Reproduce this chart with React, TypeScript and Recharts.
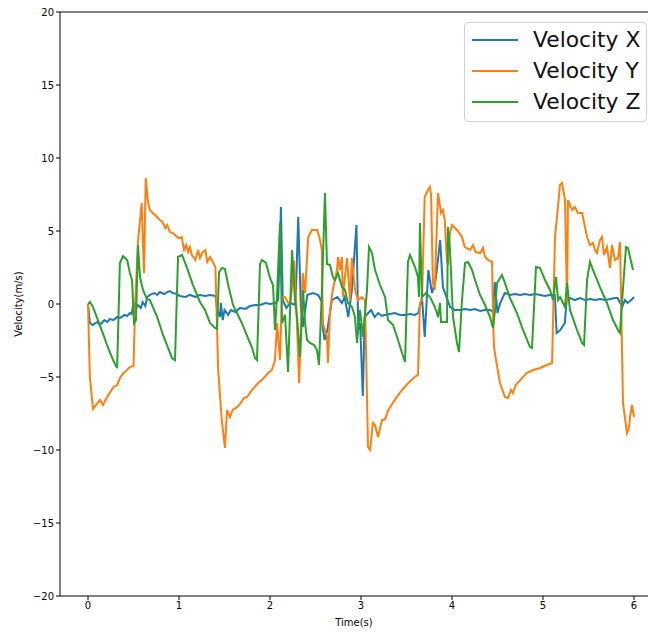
import React from 'react';
import { LineChart, Line, XAxis, YAxis, ReferenceLine, Legend } from 'recharts';

const xTicks = [0, 1, 2, 3, 4, 5, 6];
const yTicks = [-20, -15, -10, -5, 0, 5, 10, 15, 20];
const seriesNames = ['Velocity X', 'Velocity Y', 'Velocity Z'];
const seriesColors = ['#1f77b4', '#ff7f0e', '#2ca02c'];

const velocityX: [number, number][] = [
  [0, 0], [0.02, -1.3], [0.05, -1.44], [0.1, -1.23], [0.13, -1.44], [0.18, -1.1], [0.21, -1.23], [0.24, -1.03],
  [0.28, -1.1], [0.32, -0.89], [0.35, -0.96], [0.4, -0.75], [0.43, -0.82], [0.46, -0.62], [0.48, -0.68], [0.5, 0.07],
  [0.53, -0.27], [0.55, -0.07], [0.58, -0.27], [0.6, 0.14], [0.63, -0.14], [0.65, 0.48], [0.68, 0.62], [0.73, 0.75],
  [0.76, 0.62], [0.79, 0.82], [0.84, 0.68], [0.87, 0.82], [0.9, 0.89], [0.93, 0.75], [0.98, 0.68], [1.01, 0.55],
  [1.07, 0.48], [1.12, 0.62], [1.18, 0.48], [1.23, 0.62], [1.29, 0.55], [1.34, 0.62], [1.4, 0.55], [1.42, -0.41],
  [1.45, -0.89], [1.46, 0.07], [1.48, -1.1], [1.5, -0.41], [1.54, -0.75], [1.57, -0.41], [1.62, -0.55], [1.67, -0.27],
  [1.73, -0.34], [1.78, -0.14], [1.84, -0.07], [1.89, -0.07], [1.95, 0.07], [2.0, 0], [2.06, 0.07], [2.09, 0.27],
  [2.12, 6.64], [2.14, 0.27], [2.18, -0.27], [2.22, 0.07], [2.28, -0.07], [2.31, 5.96], [2.34, -0.41], [2.36, -1.58],
  [2.41, 0.62], [2.47, 0.75], [2.53, 0.62], [2.57, 0.14], [2.58, -1.58], [2.6, -2.47], [2.63, -1.78], [2.68, 0.27],
  [2.74, 0.48], [2.79, 0.07], [2.82, 0.48], [2.86, -0.89], [2.9, 0.96], [2.95, 5.41], [2.97, -1.78], [2.99, -1.3],
  [3.02, -6.3], [3.04, -0.89], [3.08, -0.62], [3.11, -0.41], [3.15, -0.89], [3.19, -0.62], [3.23, -0.82], [3.26, -0.75],
  [3.32, -0.68], [3.37, -0.62], [3.43, -0.75], [3.48, -0.75], [3.54, -0.68], [3.59, -0.75], [3.63, -0.62], [3.67, 0.48],
  [3.7, -2.26], [3.74, 2.33], [3.78, 0.75], [3.82, 1.64], [3.87, 4.38], [3.9, 1.16], [3.93, 0.62], [3.98, -0.21],
  [4.03, -0.41], [4.09, -0.41], [4.14, -0.34], [4.2, -0.41], [4.25, -0.34], [4.31, -0.48], [4.36, -0.41], [4.42, -0.41],
  [4.45, -0.55], [4.47, 1.51], [4.5, -0.62], [4.53, 0.07], [4.58, 0.75], [4.64, 0.62], [4.69, 0.68], [4.75, 0.62],
  [4.8, 0.68], [4.86, 0.62], [4.91, 0.68], [4.97, 0.62], [5.02, 0.55], [5.08, 0.62], [5.13, 0.62], [5.15, -1.99],
  [5.19, -1.78], [5.24, -1.3], [5.26, 0.27], [5.3, 0.41], [5.35, 0.27], [5.41, 0.41], [5.46, 0.27], [5.52, 0.34],
  [5.57, 0.27], [5.63, 0.34], [5.68, 0.27], [5.74, 0.34], [5.79, 0.41], [5.82, 0.41], [5.87, -0.21], [5.9, 0.27],
  [5.93, 0.07], [5.97, 0.27], [6.0, 0.48],
];

const velocityY: [number, number][] = [
  [0, 0], [0.02, -5.0], [0.055, -7.19], [0.13, -6.58], [0.165, -6.9], [0.21, -6.37], [0.28, -5.68], [0.32, -5.55],
  [0.35, -5.07], [0.39, -4.73], [0.43, -4.52], [0.46, -4.32], [0.5, -4.25], [0.52, 0.27], [0.55, 4.38], [0.59, 6.92],
  [0.6, 4.7], [0.615, 2.12], [0.634, 8.63], [0.66, 6.92], [0.68, 6.44], [0.71, 6.23], [0.76, 5.96], [0.79, 5.75],
  [0.82, 5.6], [0.85, 5.2], [0.87, 5.41], [0.9, 4.93], [0.93, 4.86], [0.96, 4.72], [0.99, 4.52], [1.01, 4.52],
  [1.03, 4.59], [1.055, 3.7], [1.08, 4.04], [1.1, 3.56], [1.12, 3.9], [1.14, 3.36], [1.18, 3.01], [1.21, 3.7],
  [1.23, 3.15], [1.26, 3.56], [1.29, 3.7], [1.31, 2.88], [1.34, 3.22], [1.36, 3.01], [1.4, 2.53], [1.43, -4.52],
  [1.47, -7.95], [1.505, -9.86], [1.527, -7.26], [1.56, -7.74], [1.59, -7.26], [1.64, -7.05], [1.68, -6.78],
  [1.71, -6.44], [1.75, -6.37], [1.8, -5.89], [1.87, -5.41], [1.91, -5.21], [1.98, -4.73], [2.02, -4.52],
  [2.055, -3.84], [2.077, -1.3], [2.11, -3.84], [2.13, 0.48], [2.165, 0.48], [2.2, 0.07], [2.22, 0.07], [2.25, 1.44],
  [2.264, 3.0], [2.286, 0.27], [2.32, -5.41], [2.36, 2.12], [2.385, 0.75], [2.42, 4.59], [2.46, 5.07], [2.52, 5.07],
  [2.55, 4.38], [2.57, 3.7], [2.58, -1.3], [2.626, -2.26], [2.637, -4.04], [2.66, -0.41], [2.69, 0.96], [2.736, 2.33],
  [2.747, 3.22], [2.77, 2.33], [2.79, 3.22], [2.8, 0.48], [2.846, 3.15], [2.88, 0.27], [2.9, 3.15], [2.934, 0.96],
  [2.967, 0.27], [3.01, 0.48], [3.044, 0.27], [3.077, -9.79], [3.1, -10.0], [3.13, -8.15], [3.154, -8.3], [3.187, -9.11],
  [3.23, -7.95], [3.264, -7.9], [3.3, -7.26], [3.37, -6.58], [3.45, -5.89], [3.52, -5.41], [3.59, -5.0], [3.626, -4.86],
  [3.648, 0.07], [3.67, 0.27], [3.7, 7.33], [3.736, 7.81], [3.758, 8.01], [3.77, 7.47], [3.79, 1.44], [3.81, 0.96],
  [3.835, 5.55], [3.846, 7.6], [3.88, 6.23], [3.9, 6.44], [3.92, 5.75], [3.945, 2.88], [3.956, 2.81], [3.978, 4.86],
  [4.0, 5.41], [4.055, 5.07], [4.11, 4.59], [4.14, 3.9], [4.2, 3.7], [4.23, 4.04], [4.26, 3.56], [4.31, 3.49],
  [4.34, 3.84], [4.363, 3.22], [4.4, 3.01], [4.44, 2.88], [4.451, -0.89], [4.462, -2.95], [4.484, -3.84],
  [4.527, -5.41], [4.582, -6.37], [4.615, -6.44], [4.648, -5.89], [4.67, -6.1], [4.7, -5.55], [4.75, -5.21],
  [4.82, -4.73], [4.89, -4.52], [4.97, -4.38], [5.04, -4.18], [5.1, -4.04], [5.132, 4.59], [5.154, 5.96],
  [5.187, 8.15], [5.209, 8.29], [5.242, 7.12], [5.264, 0.07], [5.275, 7.12], [5.32, 6.44], [5.35, 6.64],
  [5.385, 6.23], [5.43, 6.23], [5.484, 4.59], [5.516, 4.04], [5.549, 4.18], [5.571, 3.7], [5.593, 3.49],
  [5.626, 4.38], [5.648, 4.59], [5.67, 3.36], [5.703, 3.9], [5.736, 2.47], [5.758, 4.04], [5.791, 3.01],
  [5.824, 3.15], [5.846, 4.25], [5.857, 0.96], [5.879, -6.78], [5.923, -8.84], [5.945, -8.5], [5.956, -7.74],
  [5.978, -6.92], [6.0, -7.74],
];

const velocityZ: [number, number][] = [
  [0, 0], [0.022, 0.14], [0.055, -0.21], [0.13, -1.44], [0.21, -2.81], [0.275, -3.84], [0.32, -4.38], [0.35, 2.81],
  [0.385, 3.29], [0.43, 3.01], [0.46, 2.12], [0.484, 1.64], [0.505, -1.3], [0.527, -1.1], [0.549, 4.04], [0.571, 1.85],
  [0.604, 0.96], [0.648, 0.34], [0.68, 0.27], [0.76, -0.89], [0.824, -2.12], [0.88, -3.01], [0.923, -3.7],
  [0.956, -3.84], [0.989, 3.22], [1.033, 3.36], [1.088, 2.47], [1.154, 1.3], [1.23, 0.14], [1.286, -0.41],
  [1.34, -1.3], [1.396, -1.64], [1.418, -1.71], [1.44, 2.19], [1.473, 2.47], [1.505, 2.4], [1.538, 1.37],
  [1.593, -0.07], [1.637, -0.62], [1.69, -1.3], [1.758, -2.33], [1.8, -2.95], [1.835, -3.7], [1.857, -3.84],
  [1.89, 2.74], [1.912, 3.01], [1.956, 2.81], [2.0, 1.78], [2.033, 1.3], [2.055, -1.78], [2.077, 0.62], [2.11, 5.55],
  [2.132, -1.3], [2.165, -0.75], [2.198, -4.66], [2.242, 3.7], [2.275, 0.27], [2.297, -0.89], [2.33, -3.63],
  [2.363, 0.96], [2.385, -1.3], [2.407, -2.47], [2.44, -2.67], [2.484, -2.81], [2.516, -3.15], [2.538, -4.18],
  [2.571, 0.96], [2.604, 7.6], [2.626, 2.74], [2.659, 2.67], [2.692, 1.85], [2.714, 1.64], [2.747, 2.12],
  [2.791, 1.16], [2.824, 0.96], [2.857, 0.07], [2.901, -0.21], [2.934, -0.89], [2.956, -2.67], [2.989, -0.41],
  [3.022, -2.26], [3.066, 0.96], [3.088, 3.9], [3.121, 3.49], [3.154, 2.33], [3.209, 1.3], [3.264, 0.48],
  [3.297, -1.1], [3.352, -1.44], [3.396, -2.26], [3.451, -3.36], [3.484, -3.97], [3.516, 2.88], [3.538, 3.36],
  [3.593, 2.53], [3.626, 1.85], [3.637, 0.48], [3.648, 5.55], [3.67, 0.48], [3.714, 0.75], [3.758, 0.48],
  [3.791, 0.07], [3.824, -0.41], [3.846, -0.89], [3.868, 0.07], [3.879, -1.23], [3.945, -1.23], [3.956, 5.27],
  [3.978, 3.7], [4.011, -0.89], [4.055, -2.67], [4.077, -3.29], [4.11, 0.27], [4.143, 2.81], [4.176, 2.88],
  [4.22, 2.33], [4.253, 1.64], [4.308, 0.62], [4.363, -0.07], [4.418, -0.89], [4.451, -1.64], [4.473, -0.41],
  [4.495, 1.44], [4.549, 1.99], [4.582, 1.44], [4.637, 0.41], [4.714, -0.62], [4.78, -1.78], [4.857, -2.95],
  [4.879, -3.01], [4.923, 2.53], [4.967, 2.47], [5.022, 1.64], [5.077, 0.96], [5.11, 0.27], [5.143, 1.85],
  [5.165, 0.27], [5.187, 0.48], [5.242, -0.21], [5.264, 1.44], [5.297, -0.41], [5.374, -1.78], [5.429, -2.67],
  [5.451, -2.81], [5.484, 1.64], [5.516, 2.88], [5.549, 2.33], [5.626, 1.16], [5.703, 0.07], [5.769, -1.1],
  [5.824, -1.78], [5.846, -1.99], [5.868, 0.07], [5.912, 3.9], [5.934, 3.84], [5.989, 2.33],
];

const seriesData = [velocityX, velocityY, velocityZ].map((pts) => pts.map(([t, v]) => ({ t, v })));

const FONT = '"DejaVu Sans", sans-serif';
const minus = (v: number) => String(v).replace('-', '\u2212');

const LegendBox = () => (
  <div
    style={{
      position: 'relative',
      width: 183,
      height: 100,
      boxSizing: 'border-box',
      border: '1px solid #d0d0d0',
      borderRadius: 4,
      background: 'rgba(255,255,255,0.8)',
      fontFamily: FONT,
    }}
  >
    {seriesNames.map((name, i) => (
      <div key={name} style={{ position: 'absolute', left: 0, top: 17 + i * 31 - 15, height: 30, width: 183 }}>
        <div
          style={{
            position: 'absolute',
            left: 7,
            top: 14,
            width: 46,
            height: 2,
            background: seriesColors[i],
          }}
        />
        <span
          style={{
            position: 'absolute',
            left: 68,
            top: 0,
            lineHeight: '30px',
            fontSize: 21.8,
            color: '#111',
            whiteSpace: 'nowrap',
          }}
        >
          {name}
        </span>
      </div>
    ))}
  </div>
);

const YLabel = (props: any) => {
  const vb = props.viewBox || { x: 0, y: 12, width: 60, height: 584 };
  const cx = vb.x + 18;
  const cy = vb.y + vb.height / 2;
  return (
    <text
      x={cx}
      y={cy}
      transform={`rotate(-90 ${cx} ${cy})`}
      textAnchor="middle"
      dominantBaseline="central"
      fontSize={10}
      fontFamily={FONT}
      fill="#000"
    >
      Velocity(m/s)
    </text>
  );
};

export default function App() {
  return (
    <div style={{ position: 'absolute', left: 0, top: 0, width: 648, height: 632, background: '#fff', fontFamily: FONT }}>
      <LineChart width={648} height={632} margin={{ top: 12, right: 0, bottom: 0, left: 0 }}>
        <XAxis
          dataKey="t"
          type="number"
          domain={[-0.308, 6.154]}
          ticks={xTicks}
          allowDataOverflow
          height={36}
          tickSize={4}
          tickMargin={2}
          stroke="#000"
          tick={{ fill: '#000', fontSize: 10, fontFamily: FONT }}
          label={{ value: 'Time(s)', position: 'insideBottom', offset: 6, fill: '#000', fontSize: 10, fontFamily: FONT }}
        />
        <YAxis
          type="number"
          domain={[-20, 20]}
          ticks={yTicks}
          width={60}
          tickSize={4}
          tickMargin={2}
          stroke="#000"
          tickFormatter={minus}
          tick={{ fill: '#000', fontSize: 10, fontFamily: FONT }}
          label={{ content: (p: any) => <YLabel {...p} /> }}
        />
        <ReferenceLine y={20} stroke="#000" strokeWidth={1} />
        {seriesData.map((d, i) => (
          <Line
            key={seriesNames[i]}
            data={d}
            dataKey="v"
            name={seriesNames[i]}
            type="linear"
            stroke={seriesColors[i]}
            strokeWidth={2}
            dot={false}
            activeDot={false}
            isAnimationActive={false}
          />
        ))}
        <Legend
          layout="horizontal"
          verticalAlign="middle"
          align="center"
          wrapperStyle={{ position: 'absolute', left: 464, top: 22, width: 183, height: 100 }}
          content={() => <LegendBox />}
        />
      </LineChart>
    </div>
  );
}
